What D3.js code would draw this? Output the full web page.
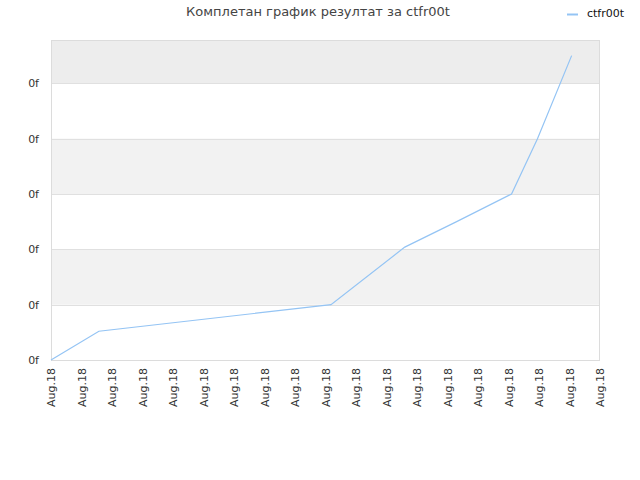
<!DOCTYPE html>
<html><head><meta charset="utf-8">
<script src="https://cdn.jsdelivr.net/npm/d3@7"></script>
<style>body{margin:0;background:#fff}svg{display:block}text{font-family:"DejaVu Sans",sans-serif}</style>
</head><body><svg id="c" width="640" height="480"></svg>
<script>
const title = "Комплетан график резултат за ctfr00t";
const seriesName = "ctfr00t";
const xTickLabels = ["Aug.18","Aug.18","Aug.18","Aug.18","Aug.18","Aug.18","Aug.18","Aug.18","Aug.18","Aug.18","Aug.18","Aug.18","Aug.18","Aug.18","Aug.18","Aug.18","Aug.18","Aug.18","Aug.18"];
const yTickValues = [0,1,2,3,4,5];
const yTickLabels = ["0f","0f","0f","0f","0f","0f"];
const xValues = [0, 1.57, 9.18, 11.6, 13.3, 15.1, 15.95, 17.07];
const yValues = [0, 0.52, 1.0, 2.04, 2.5, 3.0, 4.0, 5.5];

const svg = d3.select("#c");
const L=51,R=600,T=40,B=360;
const x = d3.scaleLinear().domain([0, xTickLabels.length-1]).range([L,R]);
const y = d3.scaleLinear().domain([0,5]).range([B,83.3]);
const yTop = y.invert(T);

// bands
const bands = [[5,yTop,"#ededed"],[3,4,"#f2f2f2"],[1,2,"#f2f2f2"]];
svg.selectAll("rect.band").data(bands).join("rect")
  .attr("x",L).attr("width",R-L)
  .attr("y",d=>y(d[1])).attr("height",d=>y(d[0])-y(d[1]))
  .attr("fill",d=>d[2]);
// gridlines
svg.selectAll("line.grid").data(yTickValues.slice(1)).join("line")
  .attr("x1",L).attr("x2",R).attr("y1",d=>Math.round(y(d))+0.5).attr("y2",d=>Math.round(y(d))+0.5)
  .attr("stroke","#e0e0e0");
// border
svg.append("rect").attr("x",L+0.5).attr("y",T+0.5).attr("width",R-L-1).attr("height",B-T)
  .attr("fill","none").attr("stroke","#dcdcdc");

// y axis labels
const yAxis = d3.axisLeft(y).tickValues(yTickValues).tickFormat((d,i)=>yTickLabels[i]).tickSize(0).tickPadding(12);
const ya = svg.append("g").attr("transform",`translate(${L},0)`).call(yAxis);
ya.select(".domain").remove();
ya.selectAll("text").attr("font-size",11).attr("fill","#333").attr("font-family","DejaVu Sans");

// x axis labels
const xAxis = d3.axisBottom(x).tickValues(d3.range(xTickLabels.length)).tickFormat((d,i)=>xTickLabels[i]).tickSize(0);
const xa = svg.append("g").attr("transform",`translate(0,${B})`).call(xAxis);
xa.select(".domain").remove();
xa.selectAll("text").attr("font-size",11).attr("fill","#333").attr("font-family","DejaVu Sans")
  .attr("transform","rotate(-90)").attr("text-anchor","end").attr("x",-8).attr("y",0).attr("dy","0.35em");

// line
const line = d3.line().x((d,i)=>x(xValues[i])).y((d,i)=>y(yValues[i]));
svg.append("path").datum(yValues).attr("d",line).attr("fill","none").attr("stroke","#94c4f4").attr("stroke-width",1.2);

// title
svg.append("text").attr("x",318).attr("y",16).attr("text-anchor","middle").attr("font-size",13).attr("fill","#444").text(title);
// legend
svg.append("line").attr("x1",567).attr("x2",578).attr("y1",14.5).attr("y2",14.5).attr("stroke","#94c4f4").attr("stroke-width",2);
svg.append("text").attr("x",587).attr("y",17).attr("font-size",10).attr("fill","#111").attr("font-family","Liberation Sans").attr("font-size",11).text(seriesName);
</script></body></html>
